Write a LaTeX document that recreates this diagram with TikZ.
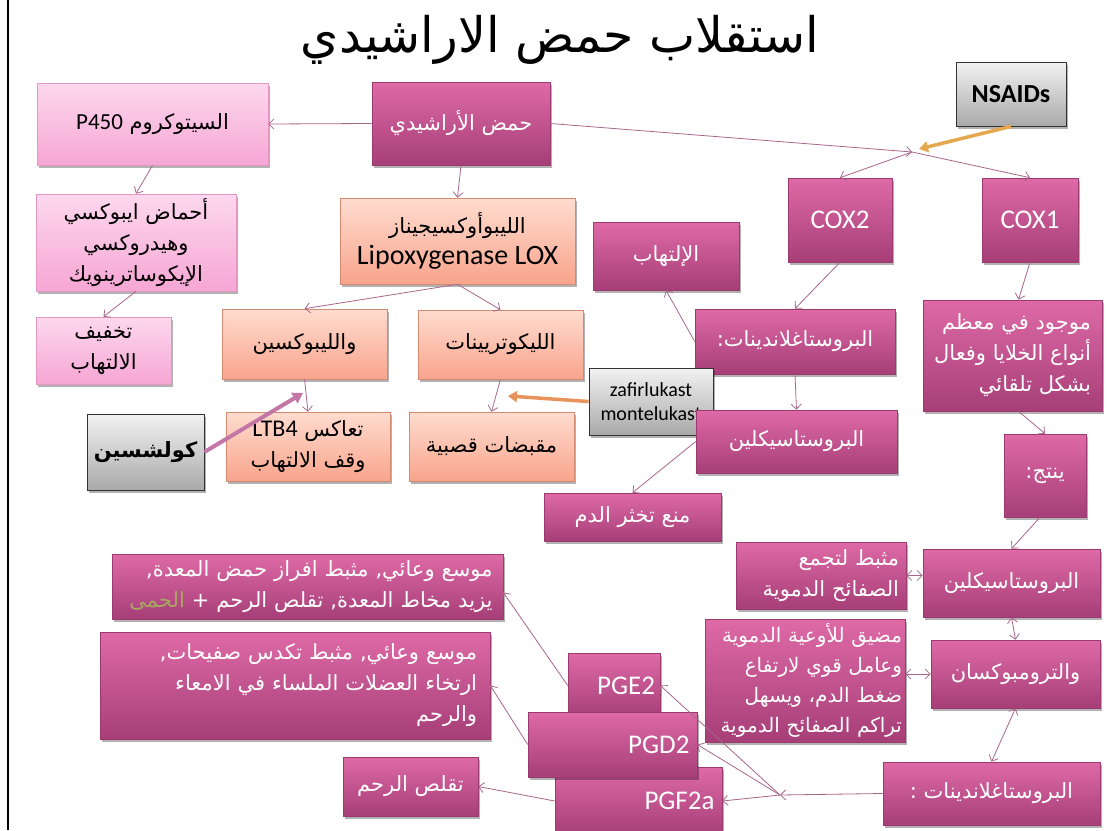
\documentclass[tikz,border=0pt]{standalone}
\usepackage{fontspec}
\setmainfont{Carlito}
\newfontfamily\arabicfont[Script=Arabic]{DejaVu Sans}
\newfontfamily\latfont{Carlito}
\TeXXeTstate=1
\usetikzlibrary{arrows.meta,shadows}
\newcommand\artxt[1]{\beginR #1\endR}
\newcommand\latw[1]{\beginL{\latfont #1}\endL}
\newcommand\fA{\arabicfont\fontsize{21}{31}\selectfont}
\newcommand\fL{\latfont\fontsize{27}{32}\selectfont}
\definecolor{magT}{HTML}{DE6AA6}
\definecolor{magB}{HTML}{A63E78}
\definecolor{magD}{HTML}{9C3A70}
\definecolor{pinkT}{HTML}{FDD8EE}
\definecolor{pinkB}{HTML}{F6A6D4}
\definecolor{pinkD}{HTML}{E497C2}
\definecolor{salT}{HTML}{FFDCCF}
\definecolor{salB}{HTML}{F8A48C}
\definecolor{salD}{HTML}{D38A72}
\definecolor{grT}{HTML}{F2F2F2}
\definecolor{grB}{HTML}{A9A9A9}
\definecolor{grD}{HTML}{333333}
\definecolor{conn}{HTML}{A8678A}
\definecolor{orA}{HTML}{E6A84E}
\definecolor{orB}{HTML}{E8925C}
\definecolor{mauve}{HTML}{C377A6}
\definecolor{olivetxt}{HTML}{A9A562}
\tikzset{
  box/.style={rectangle, inner sep=2pt, align=center, font=\fA,
    drop shadow={shadow xshift=2pt, shadow yshift=-3pt, opacity=0.3, fill=black}},
  magbox/.style={box, top color=magT, bottom color=magB, draw=magD, line width=0.6pt, text=white},
  pinkbox/.style={box, top color=pinkT, bottom color=pinkB, draw=pinkD, line width=0.6pt, text=black},
  salbox/.style={box, top color=salT, bottom color=salB, draw=salD, line width=0.6pt, text=black},
  graybox/.style={box, top color=grT, bottom color=grB, draw=grD, line width=0.8pt, text=black},
  con/.style={draw=conn, line width=0.8pt, -{Straight Barb[length=5pt,width=10pt]}},
  dcon/.style={draw=conn, line width=0.8pt, {Straight Barb[length=5pt,width=10pt]}-{Straight Barb[length=5pt,width=10pt]}},
  nsarr/.style={draw=orA, line width=3.5pt, -{Triangle[length=9pt,width=11pt]}},
  zarr/.style={draw=orB, line width=3.5pt, -{Triangle[length=9pt,width=11pt]}},
  carr/.style={draw=mauve, line width=4pt, -{Triangle[length=10pt,width=12pt]}},
}
\begin{document}
\begin{tikzpicture}[x=1pt,y=-1pt]
\fill[white] (0,0) rectangle (1108,830);
\useasboundingbox (0,0) rectangle (1108,830);
\draw[line width=2.5pt] (8,0) -- (8,830);

\node[font=\arabicfont\fontsize{49}{56}\selectfont] (title) at (560,40) {\artxt{استقلاب حمض الاراشيدي}};

\node[pinkbox, minimum width=231pt, minimum height=82pt] (p450) at (152.5,124) {\artxt{السيتوكروم \latw{\fontsize{23}{28}\selectfont P450}}};
\node[magbox, minimum width=178pt, minimum height=83pt] (aa) at (461,123.5) {\artxt{حمض الأراشيدي}};
\node[graybox, minimum width=110pt, minimum height=64pt, font=\latfont\bfseries\fontsize{26}{30}\selectfont] (nsaids) at (1011,94) {NSAIDs};
\node[magbox, minimum width=104pt, minimum height=84pt, font=\fL] (cox2) at (840,220) {COX2};
\node[magbox, minimum width=96pt, minimum height=84pt, font=\fL] (cox1) at (1030,220) {COX1};
\node[pinkbox, minimum width=200pt, minimum height=97pt] (epoxy) at (136,242.5) {\artxt{أحماض ايبوكسي}\\\artxt{وهيدروكسي}\\\artxt{الإيكوساترينويك}};
\node[salbox, minimum width=235pt, minimum height=86pt] (lox) at (457.5,241) {\artxt{الليبوأوكسيجيناز}\\{\latfont\fontsize{28}{34}\selectfont Lipoxygenase LOX}};
\node[magbox, minimum width=146pt, minimum height=68pt] (ilt) at (666,256) {\artxt{الإلتهاب}};
\node[pinkbox, minimum width=135pt, minimum height=67pt] (takh) at (103.5,350.5) {\artxt{تخفيف}\\\artxt{الالتهاب}};
\node[salbox, minimum width=165pt, minimum height=70pt] (lipox) at (304.5,344) {\artxt{والليبوكسين}};
\node[salbox, minimum width=165pt, minimum height=69pt] (leuk) at (500.5,344.5) {\artxt{الليكوتريينات}};
\node[magbox, minimum width=200pt, minimum height=65pt] (pgU) at (795,341.5) {\hbox{:}\artxt{البروستاغلاندينات}};
\node[magbox, minimum width=179pt, minimum height=111pt, align=right] (mawj) at (1012.5,355.5) {\artxt{موجود في معظم}\\\artxt{أنواع الخلايا وفعال}\\\artxt{بشكل تلقائي}};
\node[graybox, minimum width=124pt, minimum height=67pt, font=\latfont\fontsize{20}{24}\selectfont] (zafir) at (651,401.5) {zafirlukast\\montelukast};
\node[salbox, minimum width=164pt, minimum height=69pt] (ltb4) at (308,446.5) {\artxt{تعاكس \latw{\fontsize{24}{28}\selectfont LTB4}}\\\artxt{وقف الالتهاب}};
\node[salbox, minimum width=165pt, minimum height=69pt] (maqb) at (491.5,446.5) {\artxt{مقبضات قصبية}};
\node[magbox, minimum width=201pt, minimum height=63pt] (pcU) at (796.5,441.5) {\artxt{البروستاسيكلين}};
\node[graybox, minimum width=117pt, minimum height=76pt, font=\arabicfont\bfseries\fontsize{21}{25}\selectfont] (colch) at (145.5,452) {\artxt{كولشسين}};
\node[magbox, minimum width=82pt, minimum height=83pt] (yant) at (1045,475.5) {\hbox{:}\artxt{ينتج}};
\node[magbox, minimum width=177pt, minimum height=48pt] (mana) at (632.5,517) {\artxt{منع تخثر الدم}};
\node[magbox, minimum width=391pt, minimum height=65pt, align=right, text width=370pt] (mw1) at (307.5,586.5) {\hbox{,}\artxt{موسع وعائي\hbox{,} مثبط افراز حمض المعدة}\\{\color{olivetxt}الحمى} + \artxt{يزيد مخاط المعدة\hbox{,} تقلص الرحم}};
\node[magbox, minimum width=170pt, minimum height=67pt, align=right, text width=156pt] (mith) at (821,575.5) {\artxt{مثبط لتجمع}\\\artxt{الصفائح الدموية}};
\node[magbox, minimum width=177pt, minimum height=68pt] (pcL) at (1011.5,583) {\artxt{البروستاسيكلين}};
\node[magbox, minimum width=390pt, minimum height=107pt, align=right, text width=364pt] (mw2) at (295,685.5) {\hbox{,}\artxt{موسع وعائي\hbox{,} مثبط تكدس صفيحات}\\\artxt{ارتخاء العضلات الملساء في الامعاء}\\\artxt{والرحم}};
\node[magbox, minimum width=200pt, minimum height=123pt, align=right, text width=194pt, font=\arabicfont\fontsize{20}{30}\selectfont] (mud) at (805,680.5) {\artxt{مضيق للأوعية الدموية}\\\artxt{وعامل قوي لارتفاع}\\\artxt{ضغط الدم\hbox{،} ويسهل}\\\artxt{تراكم الصفائح الدموية}};
\node[magbox, minimum width=169pt, minimum height=68pt] (thr) at (1015.5,674) {\artxt{والترومبوكسان}};
\node[magbox, minimum width=92pt, minimum height=65pt, font=\fL, align=right, text width=82pt] (pge2) at (614,685.5) {PGE2};
\node[magbox, minimum width=167pt, minimum height=68pt, font=\fL, align=right, text width=152pt] (pgf) at (638.5,801) {PGF2a};
\node[magbox, minimum width=169pt, minimum height=65pt, font=\fL, align=right, text width=154pt] (pgd2) at (612.5,744.5) {PGD2};
\node[magbox, minimum width=135pt, minimum height=59pt] (taq) at (410.5,786.5) {\artxt{تقلص الرحم}};
\node[magbox, minimum width=217pt, minimum height=63pt] (pgL) at (991.5,793.5) {\hbox{:} \artxt{البروستاغلاندينات}};

\coordinate (J) at (912,152);
\coordinate (K) at (780,795);
\coordinate (zt) at (508,396);
\coordinate (ct) at (303,393);

\draw[con] (aa.west) -- (p450.east);
\draw[con] (aa.south) -- (lox.north);
\draw[con] (aa.east) -- (J);
\draw[con] (J) -- (cox2.north);
\draw[con] (J) -- (cox1.north);
\draw[nsarr] (nsaids.south) -- ([shift={(7,-3)}]J);
\draw[con] (p450.south) -- (epoxy.north);
\draw[con] (epoxy.south) -- (takh.north);
\draw[con] (lox.south) -- (lipox.north);
\draw[con] (lox.south) -- (leuk.north);
\draw[con] (lipox.south) -- (ltb4.north);
\draw[con] (leuk.south) -- (maqb.north);
\draw[zarr] (zafir.west) -- (zt);
\draw[carr] (colch.east) -- (ct);
\draw[con] (cox2.south) -- (pgU.north);
\draw[con] (pgU.south) -- (pcU.north);
\draw[con] (pgU.west) -- (ilt.south);
\draw[con] (pcU.west) -- (mana.north);
\draw[con] (cox1.south) -- ([xshift=6pt]mawj.north);
\draw[con] ([xshift=6pt]mawj.south) -- (yant.north);
\draw[con] ([xshift=-5pt]yant.south) -- (pcL.north);
\draw[dcon] (mith.east) -- (pcL.west |- mith.east);
\draw[dcon] (pcL.south) -- (thr.north);
\draw[dcon] (thr.west) -- (mud.east |- thr.west);
\draw[dcon] (thr.south) -- (pgL.north);
\draw[con] (pgL.west) -- (K);
\draw[con] (K) -- (pge2.east);
\draw[con] (K) -- (pgd2.east);
\draw[con] (K) -- (pgf.east);
\draw[con] (pge2.west) -- ([yshift=-6pt]mw1.east);
\draw[con] (pgd2.west) -- (mw2.east);
\draw[con] (pgf.west) -- (taq.east);
\end{tikzpicture}
\end{document}
